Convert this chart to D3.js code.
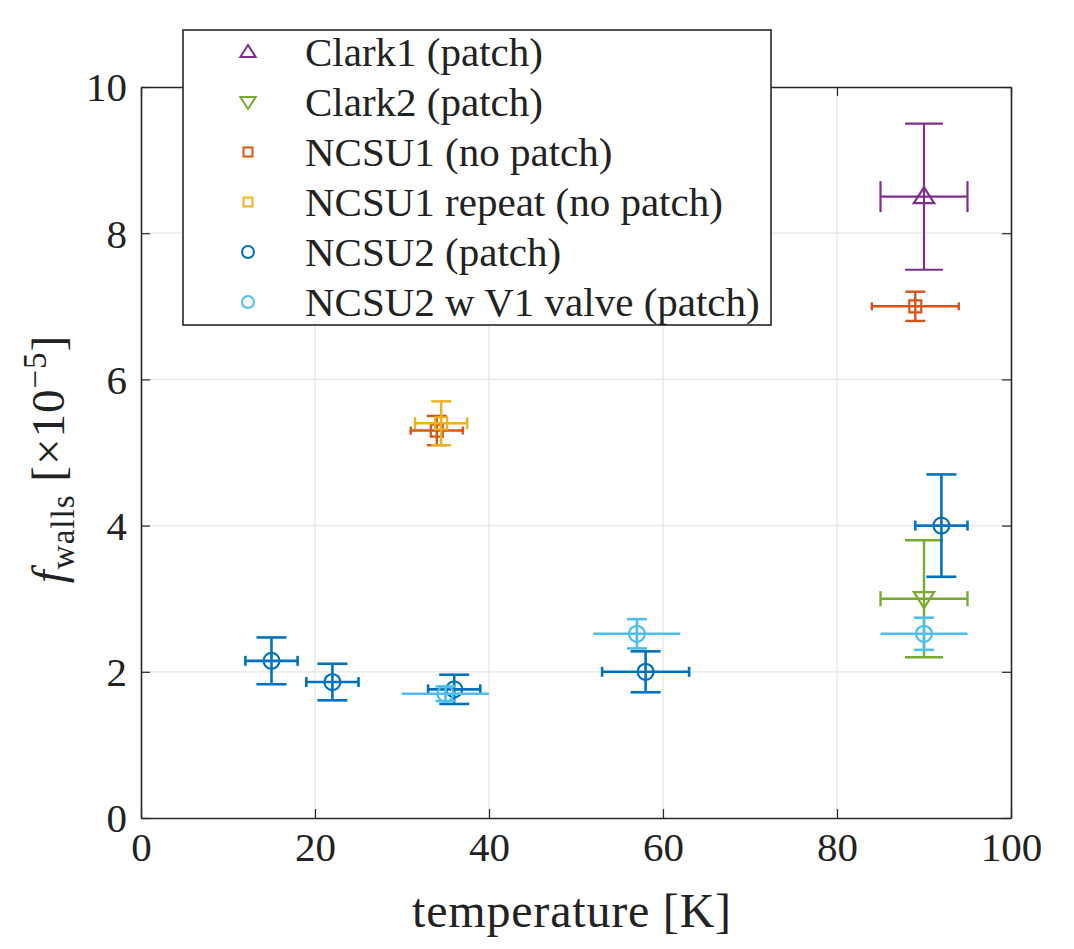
<!DOCTYPE html>
<html>
<head>
<meta charset="utf-8">
<script src="https://cdn.jsdelivr.net/npm/d3@7"></script>
</head>
<body style="margin:0;background:#fff">
<svg id="chart" width="1074" height="949" style="display:block"></svg>
<script>
// Wall friction factor vs temperature, one array per quantity and series.
const clark1T  = [90],   clark1F  = [8.5],  clark1dT  = [5], clark1dF  = [1.0];
const clark2T  = [90],   clark2F  = [3.0],  clark2dT  = [5], clark2dF  = [0.8];
const ncsu1T   = [34, 89],   ncsu1F   = [5.3, 7.0], ncsu1dT  = [3, 5], ncsu1dF  = [0.2, 0.2];
const ncsu1rT  = [34.5],     ncsu1rF  = [5.4],      ncsu1rdT = [3],    ncsu1rdF = [0.3];
const ncsu2T   = [15, 22, 36, 58, 92];
const ncsu2F   = [2.15, 1.86, 1.76, 2.0, 4.0];
const ncsu2dT  = [3, 3, 3, 5, 3];
const ncsu2dF  = [0.32, 0.25, 0.2, 0.28, 0.7];
const ncsu2vT  = [35, 57, 90];
const ncsu2vF  = [1.7, 2.52, 2.52];
const ncsu2vdT = [5, 5, 5];
const ncsu2vdF = [0.1, 0.2, 0.22];

const seriesNames = ["Clark1 (patch)", "Clark2 (patch)", "NCSU1 (no patch)",
  "NCSU1 repeat (no patch)", "NCSU2 (patch)", "NCSU2 w V1 valve (patch)"];
const xTicks = [0, 20, 40, 60, 80, 100];
const yTicks = [0, 2, 4, 6, 8, 10];

// Marker shape, colour and cap sizes for each series.
const styles = [
  { color: "#7E2F8E", marker: "up",     capV: 38, capH: 31, lw: 2.2 },
  { color: "#77AC30", marker: "down",   capV: 38, capH: 15, lw: 2.4 },
  { color: "#D95319", marker: "square", capV: 20, capH: 8,  lw: 2.4 },
  { color: "#EDB120", marker: "square", capV: 20, capH: 12, lw: 2.4 },
  { color: "#0072BD", marker: "circle", capV: 30, capH: 10, lw: 2.6 },
  { color: "#4DBEEE", marker: "circle", capV: 20, capH: 0,  lw: 2.6 }
];

const seriesData = [
  [clark1T, clark1F, clark1dT, clark1dF],
  [clark2T, clark2F, clark2dT, clark2dF],
  [ncsu1T, ncsu1F, ncsu1dT, ncsu1dF],
  [ncsu1rT, ncsu1rF, ncsu1rdT, ncsu1rdF],
  [ncsu2T, ncsu2F, ncsu2dT, ncsu2dF],
  [ncsu2vT, ncsu2vF, ncsu2vdT, ncsu2vdF]
].map(([t, f, dt, df], i) => ({
  name: seriesNames[i],
  style: styles[i],
  points: t.map((v, j) => ({ t: v, f: f[j], dt: dt[j], df: df[j] }))
}));

const FONT = "'Liberation Serif', 'Tinos', 'Times New Roman', serif";
const ink = "#222";
const svg = d3.select("#chart");
const pLeft = 141, pRight = 1011, pTop = 87, pBottom = 818;
const x = d3.scaleLinear().domain([0, 100]).range([pLeft, pRight]);
const y = d3.scaleLinear().domain([0, 10]).range([pBottom, pTop]);
const frame = "#262626";

// grid
const grid = svg.append("g");
grid.selectAll(".gx").data(xTicks.slice(1, -1)).join("line")
  .attr("x1", d => x(d)).attr("x2", d => x(d)).attr("y1", pTop).attr("y2", pBottom)
  .attr("stroke", "#e6e6e6").attr("stroke-width", 1.2);
grid.selectAll(".gy").data(yTicks.slice(1, -1)).join("line")
  .attr("y1", d => y(d)).attr("y2", d => y(d)).attr("x1", pLeft).attr("x2", pRight)
  .attr("stroke", "#e6e6e6").attr("stroke-width", 1.2);

// axes with inward ticks on all four sides
const tickLen = 9;
const axB = svg.append("g").attr("transform", `translate(0,${pBottom})`)
  .call(d3.axisBottom(x).tickValues(xTicks).tickSizeInner(-tickLen).tickSizeOuter(0).tickPadding(22));
const axT = svg.append("g").attr("transform", `translate(0,${pTop})`)
  .call(d3.axisTop(x).tickValues(xTicks).tickSizeInner(-tickLen).tickSizeOuter(0).tickFormat(""));
const axL = svg.append("g").attr("transform", `translate(${pLeft},0)`)
  .call(d3.axisLeft(y).tickValues(yTicks).tickSizeInner(-tickLen).tickSizeOuter(0).tickPadding(22));
const axR = svg.append("g").attr("transform", `translate(${pRight},0)`)
  .call(d3.axisRight(y).tickValues(yTicks).tickSizeInner(-tickLen).tickSizeOuter(0).tickFormat(""));
[axB, axT, axL, axR].forEach(a => {
  a.attr("font-family", null).attr("font-size", null);
  a.select(".domain").attr("stroke", frame).attr("stroke-width", 1.6);
  a.selectAll(".tick line").attr("stroke", frame).attr("stroke-width", 1.2);
  a.selectAll(".tick text").attr("fill", ink)
    .style("font-family", FONT).style("font-size", "41px");
});
axB.selectAll(".tick text").attr("dy", "0.71em").attr("y", 14);
axL.selectAll(".tick text").attr("x", -14).attr("dy", "0.34em");

// error bars and markers
function markerPath(kind, s) {
  if (kind === "circle") return d3.symbol(d3.symbolCircle, s * s * 0.785)();
  if (kind === "square") {
    const h = s / 2; return `M${-h},${-h}H${h}V${h}H${-h}Z`;
  }
  const h = s * 0.55, w = s * 0.6;
  if (kind === "up") return `M0,${-h}L${w},${h * 0.7}L${-w},${h * 0.7}Z`;
  return `M0,${h}L${w},${-h * 0.7}L${-w},${-h * 0.7}Z`;
}
const markerSize = { up: 17, down: 17, square: 12, circle: 16 };

const plot = svg.append("g");
seriesData.forEach(s => {
  const st = s.style;
  const g = plot.append("g").attr("stroke", st.color).attr("fill", "none");
  s.points.forEach(p => {
    const cx = x(p.t), cy = y(p.f);
    const y1 = y(p.f + p.df), y2 = y(p.f - p.df);
    const x1 = x(p.t - p.dt), x2 = x(p.t + p.dt);
    g.append("path")
      .attr("d", markerPath(st.marker, markerSize[st.marker]))
      .attr("transform", `translate(${cx},${cy})`)
      .attr("stroke-width", 2.2);
    const eb = g.append("g").attr("stroke-width", st.lw);
    eb.append("line").attr("x1", cx).attr("x2", cx).attr("y1", y1).attr("y2", y2);
    eb.append("line").attr("x1", cx - st.capV / 2).attr("x2", cx + st.capV / 2).attr("y1", y1).attr("y2", y1);
    eb.append("line").attr("x1", cx - st.capV / 2).attr("x2", cx + st.capV / 2).attr("y1", y2).attr("y2", y2);
    eb.append("line").attr("x1", x1).attr("x2", x2).attr("y1", cy).attr("y2", cy);
    if (st.capH > 0) {
      eb.append("line").attr("x1", x1).attr("x2", x1).attr("y1", cy - st.capH / 2).attr("y2", cy + st.capH / 2);
      eb.append("line").attr("x1", x2).attr("x2", x2).attr("y1", cy - st.capH / 2).attr("y2", cy + st.capH / 2);
    }
  });
});

// axis labels
svg.append("text")
  .attr("x", 572).attr("y", 927)
  .attr("text-anchor", "middle").attr("fill", ink)
  .style("font-family", FONT).style("font-size", "48px").style("letter-spacing", "0.8px")
  .text("temperature [K]");

const yl = svg.append("text")
  .attr("transform", "translate(64,459) rotate(-90)")
  .attr("text-anchor", "middle").attr("fill", ink)
  .style("font-family", FONT).style("font-size", "47px").style("letter-spacing", "1px");
yl.append("tspan").style("font-style", "italic").text("f");
yl.append("tspan").attr("dy", 10).style("font-size", "33px").text("walls");
yl.append("tspan").attr("dy", -10).text(" [×10");
yl.append("tspan").attr("dy", -18).style("font-size", "33px").text("−5");
yl.append("tspan").attr("dy", 18).text("]");

// legend
const lg = svg.append("g");
lg.append("rect").attr("x", 183).attr("y", 30).attr("width", 588).attr("height", 295)
  .attr("fill", "#fff").attr("stroke", frame).attr("stroke-width", 1.6);
const legendY = d3.scalePoint().domain(seriesNames).range([52, 302]);
seriesData.forEach(s => {
  const ly = legendY(s.name);
  lg.append("path")
    .attr("d", markerPath(s.style.marker, markerSize[s.style.marker] * 0.75))
    .attr("transform", `translate(248,${ly})`)
    .attr("fill", "none").attr("stroke", s.style.color).attr("stroke-width", 2);
  lg.append("text").attr("x", 305).attr("y", ly).attr("dy", "0.34em")
    .attr("fill", ink).style("font-family", FONT).style("font-size", "41px").text(s.name);
});
</script>
</body>
</html>
